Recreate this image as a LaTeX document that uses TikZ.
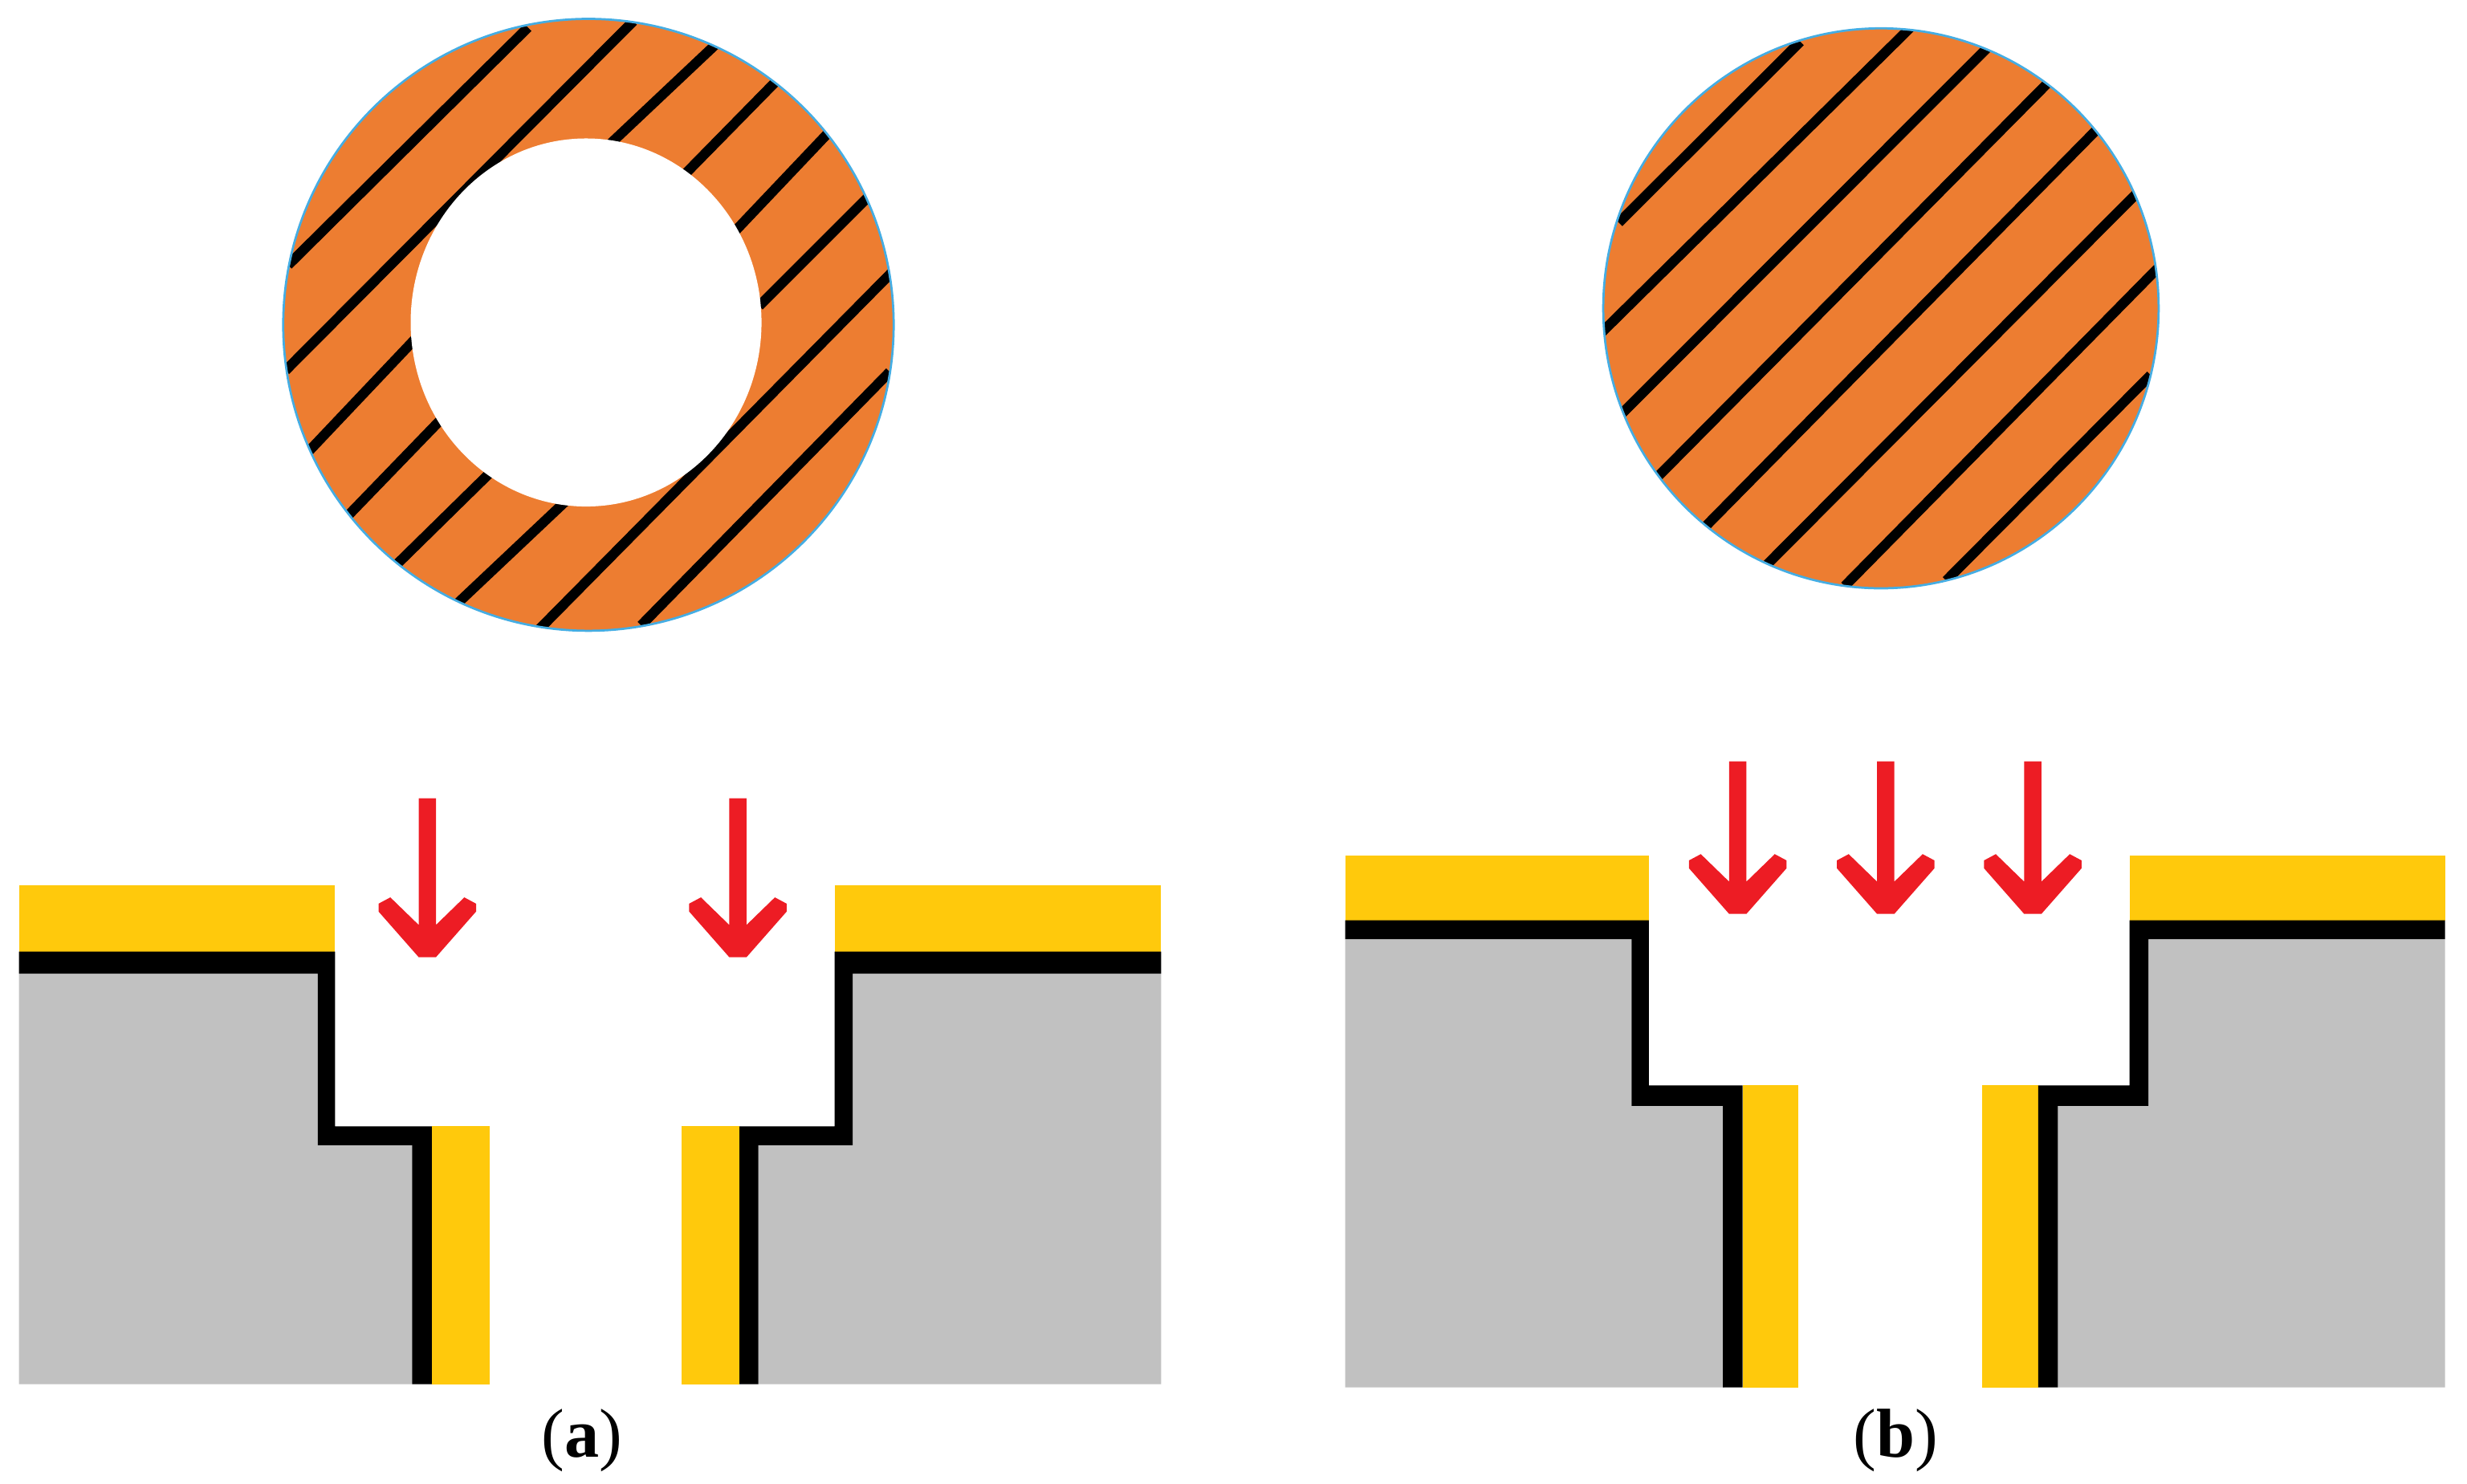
\documentclass[tikz,border=0pt]{standalone}
\usepackage{fontspec}
\setmainfont{Liberation Serif}
\definecolor{ringorange}{HTML}{ED7D31}
\definecolor{ringblue}{HTML}{45ADE3}
\definecolor{coatyellow}{HTML}{FFC90C}
\definecolor{bodygray}{HTML}{C1C1C1}
\definecolor{arrowred}{HTML}{ED1C24}
\tikzset{
  hatchline/.style={black,line width=6.3pt,shorten <=-5pt,shorten >=-5pt},
  diskfill/.style={fill=ringorange},
  diskedge/.style={draw=ringblue,line width=1.4pt},
  coat/.style={fill=coatyellow},
  bodyfill/.style={fill=bodygray},
  liner/.style={fill=black},
  redhead/.style={fill=arrowred},
  caption/.style={inner sep=0pt,font=\fontsize{44}{50}\selectfont}
}
\newcommand{\redarr}[3]{%
  \fill[redhead,shift={(#1,#2)}]
    (-5.5,-#3) -- (5.5,-#3) -- (5.5,-20.5) -- (23.5,-38) -- (31,-34) -- (31,-29) -- (5.5,0)
    -- (-5.5,0) -- (-31,-29) -- (-31,-34) -- (-23.5,-38) -- (-5.5,-20.5) -- cycle;}
\begin{document}
\begin{tikzpicture}[x=1pt,y=-1pt]
\useasboundingbox (0,0) rectangle (1568,943);
% --- ring (a)
\fill[diskfill] (374,206.5) ellipse [x radius=194,y radius=194.5];
\begin{scope}
  \clip (374,206.5) ellipse [x radius=194,y radius=194.5];
  \draw[hatchline] (186.7,165) -- (332,21);
  \draw[hatchline] (185,232) -- (399,17);
  \draw[hatchline] (199,284) -- (261.5,218);
  \draw[hatchline] (221,328) -- (279,268);
  \draw[hatchline] (255,356) -- (310,302);
  \draw[hatchline] (293.5,381) -- (356,322);
  \draw[hatchline] (345.7,397) -- (563,177);
  \draw[hatchline] (411,394) -- (562,240);
  \draw[hatchline] (391,88.5) -- (452.5,30.5);
  \draw[hatchline] (438,108) -- (491,54);
  \draw[hatchline] (470,144) -- (525,86);
  \draw[hatchline] (486,191) -- (550,127);
\end{scope}
\fill[white] (372.5,205) ellipse [x radius=111.5,y radius=117];
\draw[diskedge] (374,206.5) ellipse [x radius=194,y radius=194.5];
% --- disk (b)
\fill[diskfill] (1195.5,196) ellipse [x radius=176.5,y radius=178];
\begin{scope}
  \clip (1195.5,196) ellipse [x radius=176.5,y radius=178];
  \draw[hatchline] (1032.4,138) -- (1140.7,30);
  \draw[hatchline] (1021.4,208) -- (1211.3,20.4);
  \draw[hatchline] (1034.8,259) -- (1261,32.5);
  \draw[hatchline] (1056.7,300) -- (1300,54.3);
  \draw[hatchline] (1087,331.6) -- (1330.5,84.6);
  \draw[hatchline] (1126,356) -- (1355,126);
  \draw[hatchline] (1176,369) -- (1368,174);
  \draw[hatchline] (1240.5,365.6) -- (1363.4,242);
\end{scope}
\draw[diskedge] (1195.5,196) ellipse [x radius=176.5,y radius=178];
% --- section (a), left
\fill[coat] (12,563) rectangle (213,605);
\fill[coat] (274.5,716) rectangle (311,880);
\fill[bodyfill] (12,619) -- (202,619) -- (202,728) -- (262,728) -- (262,880) -- (12,880) -- cycle;
\fill[liner] (12,605) -- (213,605) -- (213,716) -- (274.5,716) -- (274.5,880) -- (262,880)
  -- (262,728) -- (202,728) -- (202,619) -- (12,619) -- cycle;
% --- section (a), right
\fill[coat] (530.5,563) rectangle (738,605);
\fill[coat] (433,716) rectangle (470,880);
\fill[bodyfill] (738,619) -- (542,619) -- (542,728) -- (482,728) -- (482,880) -- (738,880) -- cycle;
\fill[liner] (738,605) -- (530.5,605) -- (530.5,716) -- (470,716) -- (470,880) -- (482,880)
  -- (482,728) -- (542,728) -- (542,619) -- (738,619) -- cycle;
\redarr{271.6}{608.5}{101}
\redarr{469}{608.5}{101}
% --- section (b), left
\fill[coat] (855,544) rectangle (1048,585);
\fill[coat] (1107.5,690) rectangle (1143,882);
\fill[bodyfill] (855,597) -- (1037,597) -- (1037,703) -- (1096,703) -- (1096,882) -- (855,882) -- cycle;
\fill[liner] (855,585) -- (1048,585) -- (1048,690) -- (1107.5,690) -- (1107.5,882) -- (1095,882)
  -- (1095,703) -- (1037,703) -- (1037,597) -- (855,597) -- cycle;
% --- section (b), right
\fill[coat] (1353.5,544) rectangle (1554,585);
\fill[coat] (1260,690) rectangle (1295.5,882);
\fill[bodyfill] (1554,597) -- (1365.5,597) -- (1365.5,703) -- (1308,703) -- (1308,882) -- (1554,882) -- cycle;
\fill[liner] (1554,585) -- (1353.5,585) -- (1353.5,690) -- (1295.5,690) -- (1295.5,882) -- (1308,882)
  -- (1308,703) -- (1365.5,703) -- (1365.5,597) -- (1554,597) -- cycle;
\redarr{1104.5}{581}{97}
\redarr{1198.5}{581}{97}
\redarr{1292}{581}{97}
% --- captions
\node[caption] (capa) at (370,916) {(\textbf{a})};
\node[caption] (capb) at (1205,916) {(\textbf{b})};
\end{tikzpicture}
\end{document}
